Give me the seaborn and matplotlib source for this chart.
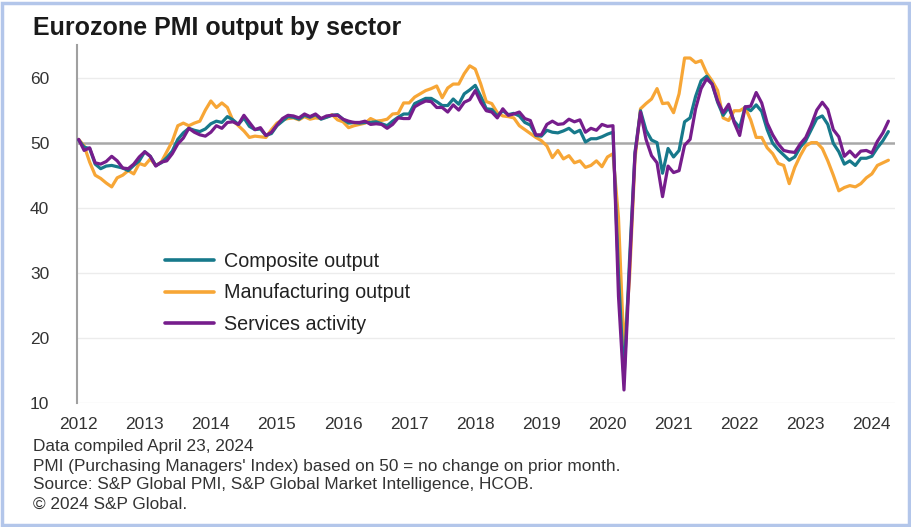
import matplotlib
matplotlib.use("Agg")
import matplotlib.pyplot as plt
import seaborn as sns
import pandas as pd
import numpy as np
from matplotlib.lines import Line2D
from matplotlib.patches import Rectangle

# ---------------- data (monthly, Jan 2012 - Apr 2024) ----------------
years = list(range(2012, 2025))
year_labels = [str(y) for y in years]

composite = [
    50.4, 49.3, 49.1, 46.7, 46.0, 46.4, 46.5, 46.3, 46.1, 45.7, 46.5, 47.2,
    48.6, 47.9, 46.5, 46.9, 47.7, 48.7, 50.5, 51.5, 52.2, 51.9, 51.7, 52.1,
    52.9, 53.3, 53.1, 54.0, 53.5, 52.8, 53.8, 52.5, 52.0, 52.1, 51.1, 51.4,
    52.6, 53.3, 54.0, 53.9, 53.6, 54.2, 53.9, 54.3, 53.6, 53.9, 54.2, 54.3,
    53.6, 53.0, 53.1, 53.0, 53.1, 53.1, 53.2, 52.9, 52.6, 53.3, 53.9, 54.4,
    54.4, 56.0, 56.4, 56.8, 56.8, 56.3, 55.7, 55.7, 56.7, 55.9, 57.5, 58.1,
    58.8, 57.1, 55.2, 55.1, 54.1, 54.9, 54.3, 54.5, 54.1, 53.1, 52.7, 51.1,
    51.0, 51.9, 51.6, 51.5, 51.8, 52.2, 51.5, 51.9, 50.1, 50.6, 50.6, 50.9,
    51.3, 51.6, 29.7, 13.6, 31.9, 48.5, 54.9, 51.9, 50.4, 50.0, 45.3, 49.1,
    47.8, 48.8, 53.2, 53.8, 57.1, 59.5, 60.2, 59.0, 56.2, 54.2, 55.4, 53.3,
    52.3, 55.5, 54.9, 55.8, 54.8, 52.0, 49.9, 48.9, 48.1, 47.3, 47.8, 49.3,
    50.3, 52.0, 53.7, 54.1, 52.8, 49.9, 48.6, 46.7, 47.2, 46.5, 47.6, 47.6,
    47.9, 49.2, 50.3, 51.7,
]

manufacturing = [
    50.5, 49.5, 47.0, 45.0, 44.5, 43.8, 43.2, 44.6, 45.0, 45.7, 45.2, 46.8,
    46.5, 47.5, 46.5, 47.0, 48.6, 50.2, 52.6, 53.0, 52.6, 53.0, 53.3, 55.0,
    56.4, 55.4, 56.1, 55.4, 53.4, 52.6, 51.8, 50.8, 51.0, 50.9, 50.8, 52.0,
    53.0, 53.5, 53.7, 53.8, 53.5, 54.0, 53.6, 53.8, 53.7, 53.9, 54.3, 53.5,
    53.2, 52.3, 52.6, 52.8, 53.0, 53.7, 53.3, 53.4, 53.6, 54.4, 54.5, 56.1,
    56.1, 57.0, 57.5, 58.0, 58.3, 58.7, 56.9, 58.4, 59.0, 59.0, 60.6, 61.8,
    61.3, 59.0, 56.3, 56.0, 54.6, 54.1, 54.0, 53.8, 52.6, 52.0, 51.4, 50.8,
    50.3, 49.5, 47.7, 48.8, 47.5, 48.0, 46.9, 47.2, 46.2, 46.5, 47.2, 46.3,
    47.8, 48.3, 38.5, 18.1, 29.0, 47.5, 55.2, 56.0, 56.7, 58.3, 56.0, 56.1,
    54.6, 57.5, 63.0, 63.0, 62.3, 62.6, 60.7, 59.5, 58.0, 53.8, 53.4, 54.9,
    54.9, 55.4, 53.5, 50.8, 50.8, 49.2, 48.3, 46.8, 46.5, 43.7, 46.2, 48.0,
    49.5, 50.0, 50.0, 49.1, 47.2, 45.0, 42.6, 43.1, 43.4, 43.2, 43.7, 44.6,
    45.2, 46.5, 46.9, 47.3,
]

services = [
    50.5, 48.8, 49.2, 46.9, 46.7, 47.1, 47.9, 47.2, 46.1, 46.0, 46.7, 47.8,
    48.6, 47.9, 46.4, 47.0, 47.2, 48.3, 49.8, 50.7, 52.2, 51.6, 51.2, 51.0,
    51.6, 52.6, 52.2, 53.1, 53.2, 52.8, 54.2, 53.1, 52.0, 52.3, 51.1, 51.6,
    52.7, 53.7, 54.2, 54.1, 53.8, 54.4, 54.0, 54.4, 53.7, 54.1, 54.2, 54.2,
    53.6, 53.3, 53.1, 53.1, 53.3, 52.8, 52.9, 52.8, 52.2, 52.8, 53.8, 53.7,
    53.7, 55.5, 56.0, 56.4, 56.3, 55.4, 55.4, 54.7, 55.8, 55.0, 56.2, 56.6,
    58.0, 56.2, 54.9, 54.7, 53.8, 55.2, 54.2, 54.4, 54.7, 53.7, 53.4, 51.2,
    51.2, 52.8, 53.3, 52.8, 52.9, 53.6, 53.2, 53.5, 51.6, 52.2, 51.9, 52.8,
    52.5, 52.6, 26.4, 12.0, 30.5, 48.3, 54.7, 50.5, 48.0, 46.9, 41.7, 46.4,
    45.4, 45.7, 49.6, 50.5, 55.2, 58.3, 59.8, 59.0, 56.4, 54.6, 55.9, 53.1,
    51.1, 55.5, 55.6, 57.7, 56.1, 53.0, 51.2, 49.8, 48.8, 48.6, 48.5, 49.8,
    50.8, 52.7, 55.0, 56.2, 55.1, 52.0, 50.9, 47.9, 48.7, 47.8, 48.7, 48.8,
    48.4, 50.2, 51.5, 53.3,
]

series_names = ["Composite output", "Manufacturing output", "Services activity"]
colors = {"Composite output": "#17798b",
          "Manufacturing output": "#f7a636",
          "Services activity": "#761d8c"}
y_ticks = [10, 20, 30, 40, 50, 60]

# ---------------- build long table ----------------
n = len(composite)
month_idx = np.arange(n)
df = pd.concat([
    pd.DataFrame({"m": month_idx, "value": composite, "series": "Composite output"}),
    pd.DataFrame({"m": month_idx, "value": manufacturing, "series": "Manufacturing output"}),
    pd.DataFrame({"m": month_idx, "value": services, "series": "Services activity"}),
], ignore_index=True)

# ---------------- figure ----------------
sns.set_theme(style="white")
plt.rcParams["font.family"] = ["Liberation Sans", "DejaVu Sans"]

W, H = 912, 527
fig = plt.figure(figsize=(W / 100, H / 100), dpi=100)
ax = fig.add_axes([77 / W, 1 - 403 / H, (895 - 77) / W, (403 - 45) / H])

draw_order = [("Manufacturing output", 2), ("Composite output", 3), ("Services activity", 4)]
for name, z in draw_order:
    sub = df[df["series"] == name]
    sns.lineplot(data=sub, x="m", y="value", ax=ax, color=colors[name],
                 linewidth=2.3, zorder=z, legend=False, solid_joinstyle="round")

ax.set_xlim(-0.3, 148.2)
ax.set_ylim(10, 65)

# gridlines
for yv in [20, 30, 40, 60]:
    ax.axhline(yv, color="#ececec", linewidth=1.0, zorder=1)
ax.axhline(10, color="#efefef", linewidth=1.0, zorder=1)
ax.axhline(50, color="#a8a8a8", linewidth=1.8, zorder=1.5)

ax.set_yticks(y_ticks)
ax.set_yticklabels([str(v) for v in y_ticks])
ax.set_xticks([12 * i for i in range(len(years))])
ax.set_xticklabels(year_labels)
ax.tick_params(axis="both", length=0, labelsize=12.5, colors="#333333")
ax.tick_params(axis="y", pad=20)
ax.tick_params(axis="x", pad=10)
ax.set_xlabel("")
ax.set_ylabel("")

for side in ["top", "right", "bottom"]:
    ax.spines[side].set_visible(False)
ax.spines["left"].set_color("#a0a0a0")
ax.spines["left"].set_linewidth(1.5)

# legend
handles = [Line2D([0], [0], color=colors[s], linewidth=2.6) for s in series_names]
ax.legend(handles, series_names, loc="center left",
          bbox_to_anchor=((165 - 77) / 818, (403 - 293) / 358),
          frameon=False, fontsize=14.2, handlelength=2.5, handletextpad=0.5,
          labelspacing=0.65, borderpad=0, borderaxespad=0,
          labelcolor="#222222")

# title
fig.text(33 / W, 1 - 28 / H, "Eurozone PMI output by sector", fontsize=18,
         fontweight="bold", color="#1a1a1a", va="center", ha="left")

# footnotes
notes = ["Data compiled April 23, 2024",
         "PMI (Purchasing Managers' Index) based on 50 = no change on prior month.",
         "Source: S&P Global PMI, S&P Global Market Intelligence, HCOB.",
         "\u00a9 2024 S&P Global."]
for i, t in enumerate(notes):
    fig.text(33 / W, 1 - (447 + 19 * i) / H, t, fontsize=12.4, color="#333333",
             va="center", ha="left")

# screenshot-style border
fig.patches.append(Rectangle((2 / W, 2 / H), (W - 5) / W, (H - 5) / H,
                             transform=fig.transFigure, fill=False,
                             edgecolor="#b3c6ea", linewidth=2.5))

fig.savefig("out.png", dpi=100)
